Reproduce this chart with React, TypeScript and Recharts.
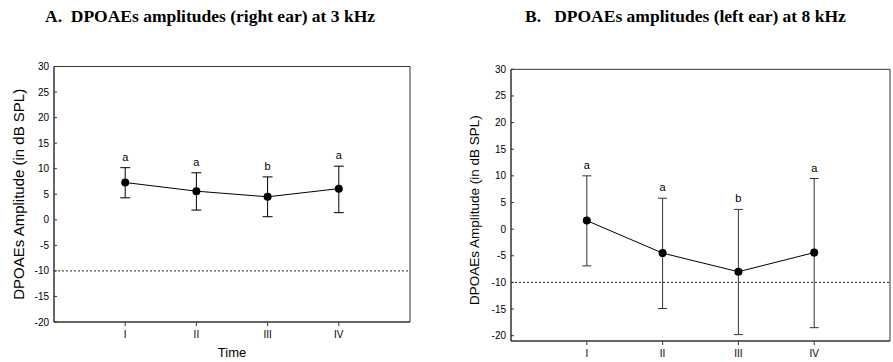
import React from 'react';
import {
  LineChart, Line, XAxis, YAxis, ErrorBar, ReferenceLine, ReferenceArea, LabelList, Label,
} from 'recharts';

const categories = ['I', 'II', 'III', 'IV'];
const positions = [1, 2, 3, 4];
const yTicks = [-20, -15, -10, -5, 0, 5, 10, 15, 20, 25, 30];

// panel A: right ear, 3 kHz
const meanA = [7.3, 5.6, 4.5, 6.1];
const upperA = [10.2, 9.2, 8.4, 10.5];
const lowerA = [4.3, 1.9, 0.6, 1.4];
const lettersA = ['a', 'a', 'b', 'a'];

// panel B: left ear, 8 kHz
const meanB = [1.6, -4.5, -8.0, -4.4];
const upperB = [10.0, 5.8, 3.7, 9.5];
const lowerB = [-6.9, -14.9, -19.8, -18.5];
const lettersB = ['a', 'a', 'b', 'a'];

const Y_LABEL = 'DPOAEs Amplitude (in dB SPL)';
const FONT = '"Liberation Sans", Arial, sans-serif';

function buildRows(mean: number[], upper: number[], lower: number[], letters: string[]) {
  return mean.map((m, i) => ({
    pos: positions[i],
    mean: m,
    hi: upper[i],
    err: [m - lower[i], upper[i] - m],
    letter: letters[i],
  }));
}

const YTick = (props: any) => {
  const { x, y, payload } = props;
  const axisX = x + 5;
  return (
    <g>
      <line x1={axisX} x2={axisX + 3} y1={y} y2={y} stroke="#333" />
      <text x={x} y={y} textAnchor="end" dominantBaseline="central" fontSize={10} fill="#000">
        {payload.value}
      </text>
    </g>
  );
};

type PanelProps = {
  rows: any[];
  width: number;
  height: number;
  top: number;
  right: number;
  yAxisWidth: number;
  xAxisHeight: number;
  yDomain: [number, number];
  labelX: number;
  labelDy: number;
  labelSize: number;
  cap: number;
  showTime: boolean;
  barColor: string;
};

function Panel(p: PanelProps) {
  const yLabel = (lp: any) => {
    const vb = lp.viewBox;
    const cx = vb.x + p.labelX;
    const cy = vb.y + vb.height / 2 + p.labelDy;
    return (
      <text x={cx} y={cy} transform={`rotate(-90 ${cx} ${cy})`} textAnchor="middle"
        dominantBaseline="central" fontSize={p.labelSize} fill="#000" fontFamily={FONT}>
        {Y_LABEL}
      </text>
    );
  };
  const timeLabel = (lp: any) => {
    const vb = lp.viewBox;
    return (
      <text x={vb.x + vb.width / 2} y={vb.y + 30} textAnchor="middle" dominantBaseline="central"
        fontSize={13} fill="#000" fontFamily={FONT}>
        Time
      </text>
    );
  };
  return (
    <LineChart width={p.width} height={p.height} data={p.rows}
      margin={{ top: p.top, right: p.right, bottom: 0, left: 0 }}
      style={{ fontFamily: FONT }}>
      <XAxis dataKey="pos" type="number" domain={[0, 5]} ticks={positions}
        tickFormatter={(v: number) => categories[v - 1]} height={p.xAxisHeight}
        tickSize={4} tickMargin={5} stroke="#333" tick={{ fontSize: 10, fill: '#000' }}
        label={p.showTime ? <Label content={timeLabel} /> : undefined} />
      <YAxis type="number" domain={p.yDomain} ticks={yTicks} interval={0} width={p.yAxisWidth}
        tickSize={0} tickMargin={5} tickLine={false} stroke="#333" tick={<YTick />}
        allowDataOverflow label={<Label content={yLabel} />} />
      <ReferenceArea x1={0} x2={5} y1={p.yDomain[0]} y2={p.yDomain[1]} fill="none"
        stroke="#333" strokeWidth={1} ifOverflow="visible" />
      <ReferenceLine y={-10} stroke="#222" strokeDasharray="2 2" strokeWidth={1} />
      <Line dataKey="hi" stroke="none" dot={false} activeDot={false} isAnimationActive={false}>
        <LabelList dataKey="letter" position="top" offset={7} fontSize={11} fill="#000" />
      </Line>
      <Line dataKey="mean" stroke="#000" strokeWidth={1} isAnimationActive={false}
        dot={{ r: 4, fill: '#000', stroke: '#000', strokeWidth: 0 }} activeDot={false}>
        <ErrorBar dataKey="err" direction="y" width={p.cap} stroke={p.barColor} strokeWidth={1}
          isAnimationActive={false} />
      </Line>
    </LineChart>
  );
}

const titleStyle: React.CSSProperties = {
  position: 'absolute',
  top: 6,
  fontFamily: '"Liberation Serif", "Times New Roman", serif',
  fontWeight: 'bold',
  fontSize: 17.5,
  lineHeight: '20px',
  whiteSpace: 'pre',
  color: '#000',
};

export default function App() {
  const rowsA = buildRows(meanA, upperA, lowerA, lettersA);
  const rowsB = buildRows(meanB, upperB, lowerB, lettersB);
  return (
    <div style={{ position: 'absolute', left: 0, top: 0, width: 893, height: 362, overflow: 'hidden', background: '#fff' }}>
      <div style={{ ...titleStyle, left: 45 }}>A.  DPOAEs amplitudes (right ear) at 3 kHz</div>
      <div style={{ ...titleStyle, left: 525 }}>B.   DPOAEs amplitudes (left ear) at 8 kHz</div>
      <div style={{ position: 'absolute', left: 0, top: 50 }}>
        <Panel rows={rowsA} width={420} height={312} top={16.5} right={10} yAxisWidth={54}
          xAxisHeight={40} yDomain={[-20, 30]} labelX={18} labelDy={0} labelSize={15} cap={5}
          showTime barColor="#000" />
      </div>
      <div style={{ position: 'absolute', left: 460, top: 50 }}>
        <Panel rows={rowsB} width={433} height={312} top={19.3} right={3} yAxisWidth={51}
          xAxisHeight={21} yDomain={[-21, 30]} labelX={15} labelDy={5} labelSize={13.5} cap={4.5}
          showTime={false} barColor="#333" />
      </div>
    </div>
  );
}
